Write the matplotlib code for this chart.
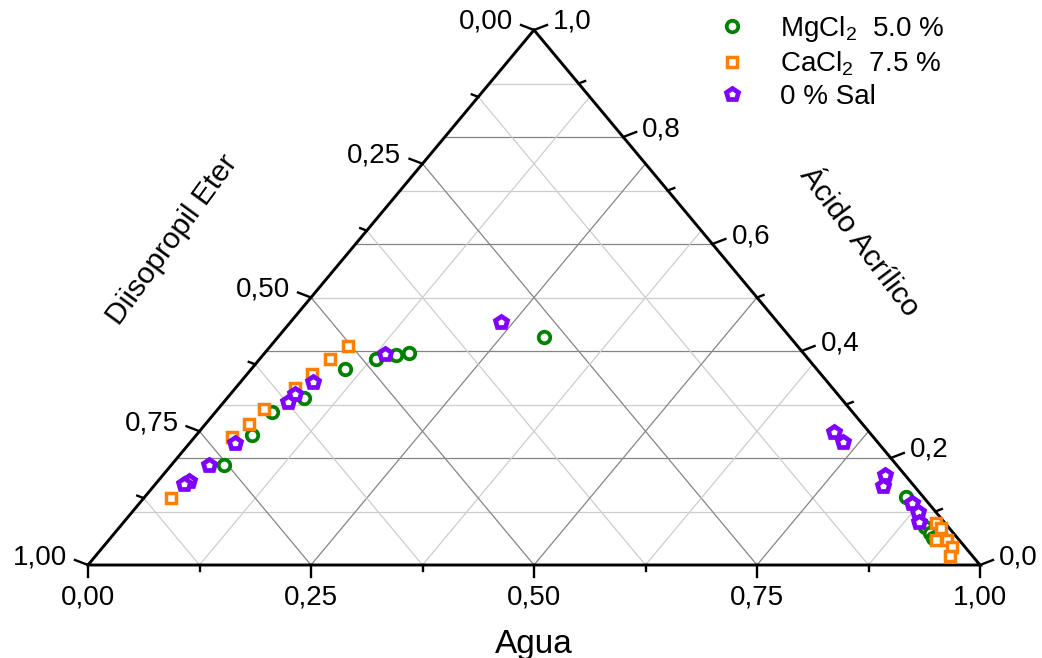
import numpy as np
import matplotlib
matplotlib.use('Agg')
import matplotlib.pyplot as plt
from matplotlib.lines import Line2D

plt.rcParams['font.family'] = ['Liberation Sans', 'DejaVu Sans']
plt.rcParams['mathtext.fontset'] = 'custom'
plt.rcParams['mathtext.rm'] = 'Liberation Sans'

# composiciones en fraccion masica: agua, diisopropil eter, acido acrilico
mg_agua = [0.298, 0.162, 0.149, 0.130, 0.105, 0.086, 0.063, 0.062, 0.059,
           0.853, 0.903, 0.914, 0.922]
mg_eter = [0.276, 0.442, 0.458, 0.485, 0.529, 0.602, 0.651, 0.695, 0.754,
           0.020, 0.026, 0.026, 0.028]
mg_acido = [0.426, 0.396, 0.393, 0.385, 0.366, 0.312, 0.286, 0.243, 0.187,
            0.127, 0.071, 0.060, 0.050]

ca_agua = [0.087, 0.079, 0.073, 0.067, 0.051, 0.048, 0.042, 0.031,
           0.911, 0.922, 0.927, 0.939, 0.952, 0.958]
ca_eter = [0.504, 0.536, 0.570, 0.602, 0.657, 0.688, 0.719, 0.844,
           0.010, 0.009, 0.026, 0.014, 0.014, 0.025]
ca_acido = [0.409, 0.385, 0.357, 0.331, 0.292, 0.264, 0.239, 0.125,
            0.079, 0.069, 0.047, 0.047, 0.034, 0.017]

sal_agua = [0.236, 0.136, 0.081, 0.072, 0.072, 0.051, 0.042, 0.035, 0.032,
            0.712, 0.731, 0.810, 0.817, 0.866, 0.881, 0.892]
sal_eter = [0.310, 0.470, 0.577, 0.608, 0.623, 0.721, 0.771, 0.808, 0.817,
            0.039, 0.039, 0.022, 0.035, 0.018, 0.020, 0.028]
sal_acido = [0.454, 0.394, 0.342, 0.320, 0.305, 0.228, 0.187, 0.157, 0.151,
             0.249, 0.230, 0.168, 0.148, 0.116, 0.099, 0.080]

series = [
    ('MgCl$_2$  5.0 %', mg_agua, mg_eter, mg_acido, 'o', '#008000', 8.3, 2.7),
    ('CaCl$_2$  7.5 %', ca_agua, ca_eter, ca_acido, 's', '#FF7F00', 7.6, 2.5),
    ('0 % Sal', sal_agua, sal_eter, sal_acido, 'p', '#8000FF', 9.3, 3.4),
]


def ternary_xy(agua, eter, acido):
    agua = np.asarray(agua, float)
    acido = np.asarray(acido, float)
    total = agua + np.asarray(eter, float) + acido
    agua, acido = agua / total, acido / total
    return agua + acido / 2, acido


W, H = 1042, 658
fig = plt.figure(figsize=(W / 100, H / 100), dpi=100)
ax = fig.add_axes([88 / W, (H - 565) / H, 892 / W, 535 / H])
ax.set_xlim(0, 1)
ax.set_ylim(0, 1)
ax.axis('off')
px, py = 1 / 892, 1 / 535  # one pixel in axes units

dark, light = '#858585', '#cdcdcd'

# grid: acido every 0.1, agua and eter every 0.125
for k in range(1, 10):
    a = k / 10
    ax.plot([a / 2, 1 - a / 2], [a, a], color=dark if k % 2 == 0 else light,
            lw=0.9, zorder=1)
for k in range(1, 8):
    f = k / 8
    c = dark if k % 2 == 0 else light
    ax.plot([f, f + (1 - f) / 2], [0, 1 - f], color=c, lw=0.9, zorder=1)
    ax.plot([1 - f, (1 - f) / 2], [0, 1 - f], color=c, lw=0.9, zorder=1)

# triangle frame
ax.plot([0, 1, 0.5, 0], [0, 0, 1, 0], color='black', lw=2.1,
        solid_joinstyle='miter', zorder=3, clip_on=False)

fs_tick = 20


def fmt(v, nd):
    return f'{v:.{nd}f}'.replace('.', ',')


# bottom axis (Agua)
for k in range(9):
    f = k / 8
    major = k % 2 == 0
    L = 12 if major else 6
    ax.plot([f, f], [0, -L * py], color='black', lw=1.7, clip_on=False, zorder=3)
    if major:
        ax.text(f, -33 * py, fmt(f, 2), ha='center', va='center',
                fontsize=fs_tick)

# left axis (Diisopropil Eter)
for k in range(9):
    e = k / 8
    major = k % 2 == 0
    s = 1.0 if major else 0.5
    x, y = (1 - e) / 2, 1 - e
    ax.plot([x, x - 13 * s * px], [y, y + 5 * s * py], color='black', lw=1.7,
            clip_on=False, zorder=3)
    if major:
        ax.text(x - 21 * px, y + 8 * py, fmt(e, 2), ha='right', va='center',
                fontsize=fs_tick)

# right axis (Acido Acrilico)
for k in range(11):
    a = k / 10
    major = k % 2 == 0
    s = 1.0 if major else 0.5
    x, y = 1 - a / 2, a
    ax.plot([x, x + 13 * s * px], [y, y + 5 * s * py], color='black', lw=1.7,
            clip_on=False, zorder=3)
    if major:
        ax.text(x + 19 * px, y + 8 * py, fmt(a, 1), ha='left', va='center',
                fontsize=fs_tick)

# axis titles
fig.text(534 / W, 1 - 644 / H, 'Agua', ha='center', va='center', fontsize=24)
fig.text(172 / W, 1 - 240 / H, 'Diisopropil Eter', ha='center', va='center',
         fontsize=21.5, rotation=54)
fig.text(859 / W, 1 - 242 / H, 'Ácido Acrílico', ha='center', va='center',
         fontsize=21.5, rotation=-53)

# data
handles = []
for label, ag, et, ac, mk, col, ms, mew in series:
    x, y = ternary_xy(ag, et, ac)
    ax.plot(x, y, ls='none', marker=mk, ms=ms, mew=mew, mec=col, mfc='white',
            zorder=4, clip_on=False)
    handles.append(Line2D([], [], ls='none', marker=mk, ms=ms, mew=mew,
                          mec=col, mfc='white', label=label))

ax.legend(handles=handles, loc='upper left', bbox_to_anchor=(718 / W, 1 - 14 / H),
          bbox_transform=fig.transFigure, frameon=False, fontsize=20,
          handlelength=1.0, handletextpad=1.25, labelspacing=0.2,
          borderpad=0, borderaxespad=0)

fig.savefig('out.png', dpi=100)
